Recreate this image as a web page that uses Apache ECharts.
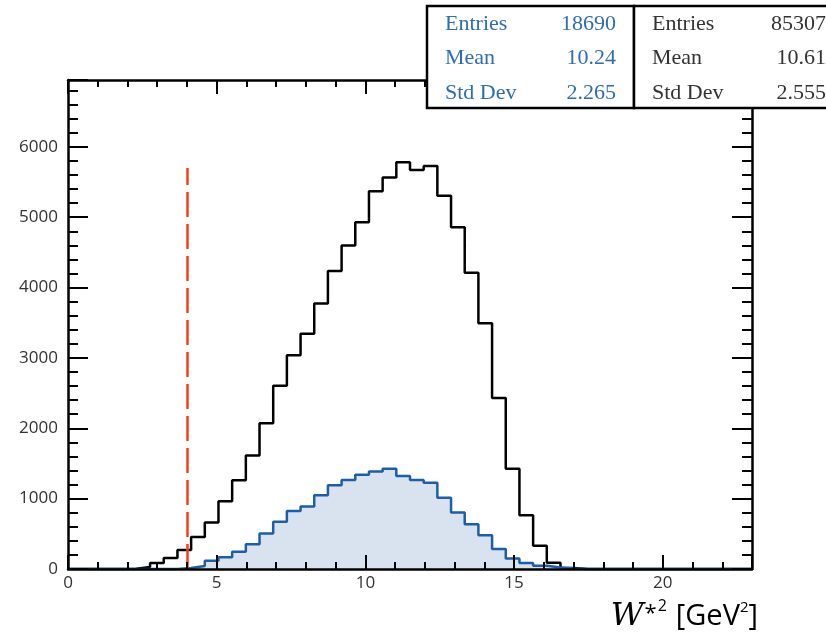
<!DOCTYPE html>
<html>
<head>
<meta charset="utf-8">
<script src="https://cdn.jsdelivr.net/npm/echarts@6/dist/echarts.min.js"></script>
<style>
  html, body { margin: 0; padding: 0; background: #ffffff; }
  #chart { width: 826px; height: 636px; }
</style>
</head>
<body>
<div id="chart"></div>
<script>
// Histogram binning: 50 bins over W*^2 = 0 .. 23 GeV^2
const binLow = 0;
const binWidth = 0.46;

// All events (black outline)
const allCounts = [
  0, 0, 0, 0, 5, 30, 85, 155, 270, 455,
  662, 962, 1260, 1613, 2070, 2604, 3038, 3345, 3774, 4236,
  4599, 4929, 5368, 5566, 5780, 5670, 5726, 5306, 4858, 4212,
  3491, 2429, 1425, 764, 330, 90, 15, 0, 0, 0,
  0, 0, 0, 0, 0, 0, 0, 0, 0, 0
];

// Selected events (blue, filled)
const selCounts = [
  0, 0, 0, 0, 0, 0, 0, 0, 15, 43,
  116, 166, 246, 350, 505, 670, 825, 889, 1047, 1189,
  1264, 1340, 1387, 1425, 1321, 1264, 1227, 1014, 802, 637,
  481, 283, 151, 85, 47, 20, 8, 0, 0, 0,
  0, 0, 0, 0, 0, 0, 0, 0, 0, 0
];

// Cut position and height of the cut marker
const cutValue = 4;
const cutLineTop = 5700;

// Axis ranges and tick spacing
const xMin = 0, xMax = 23, xMajor = 5, xMinor = 1;
const yMin = 0, yMax = 6950, yMajor = 1000, yMinor = 200;

// Statistics boxes
const statsSel = [['Entries', '18690'], ['Mean', '10.24'], ['Std Dev', '2.265']];
const statsAll = [['Entries', '85307'], ['Mean', '10.61'], ['Std Dev', '2.555']];

const selColor = '#1b5ea9';
const selFill = '#d9e3ef';
const selText = '#2f6db3';
const allText = '#333333';
const labelFont = 'Open Sans';
const statFont = 'Liberation Serif';

// Turn bin contents into step points at the bin edges
function toSteps(counts) {
  const pts = counts.map((c, i) => [binLow + i * binWidth, c]);
  pts.push([binLow + counts.length * binWidth, counts[counts.length - 1]]);
  return pts;
}

function xAxisDef(position, interval, tickLen, withLabel, withLine) {
  return {
    type: 'value', position: position, min: xMin, max: xMax, interval: interval,
    z: 10,
    axisLine: { show: withLine, onZero: false, lineStyle: { color: '#000', width: 2.5 } },
    axisTick: { show: true, inside: true, length: tickLen, lineStyle: { color: '#000', width: 2 } },
    axisLabel: {
      show: withLabel, margin: 6, color: allText, fontFamily: labelFont, fontSize: 17,
      formatter: v => (v % xMajor === 0 ? String(v) : '')
    },
    splitLine: { show: false }
  };
}

function yAxisDef(position, interval, tickLen, withLabel, withLine) {
  return {
    type: 'value', position: position, min: yMin, max: yMax, interval: interval,
    z: 10,
    axisLine: { show: withLine, onZero: false, lineStyle: { color: '#000', width: 2.5 } },
    axisTick: { show: true, inside: true, length: tickLen, lineStyle: { color: '#000', width: 2 } },
    axisLabel: {
      show: withLabel, margin: 10, color: allText, fontFamily: labelFont, fontSize: 17,
      formatter: v => (v % yMajor === 0 ? String(v) : '')
    },
    splitLine: { show: false }
  };
}

// Stats box text and frame
function statsBox(x, width, rows, color) {
  const items = [{
    type: 'rect', z: 100, zlevel: 1,
    shape: { x: x, y: 6, width: width, height: 102 },
    style: { fill: '#ffffff', stroke: '#000000', lineWidth: 2.5 }
  }];
  const rowY = [24, 58, 93];
  rows.forEach((r, i) => {
    items.push({
      type: 'text', z: 101, zlevel: 1, x: x + 18, y: rowY[i],
      style: { text: r[0], fill: color, font: '22px "' + statFont + '"', align: 'left', verticalAlign: 'middle' }
    });
    items.push({
      type: 'text', z: 101, zlevel: 1, x: x + width - 18, y: rowY[i],
      style: { text: r[1], fill: color, font: '22px "' + statFont + '"', align: 'right', verticalAlign: 'middle' }
    });
  });
  return items;
}

const chart = echarts.init(document.getElementById('chart'), null, { renderer: 'canvas' });

chart.setOption({
  backgroundColor: '#ffffff',
  animation: false,
  grid: { left: 68, right: 74, top: 80, bottom: 67, containLabel: false },
  xAxis: [
    xAxisDef('bottom', xMajor, 14, true, true),
    xAxisDef('bottom', xMinor, 7, false, false),
    xAxisDef('top', xMajor, 14, false, true),
    xAxisDef('top', xMinor, 7, false, false)
  ],
  yAxis: [
    yAxisDef('left', yMajor, 20, true, true),
    yAxisDef('left', yMinor, 10, false, false),
    yAxisDef('right', yMajor, 20, false, true),
    yAxisDef('right', yMinor, 10, false, false)
  ],
  series: [
    {
      name: 'all',
      type: 'line', step: 'end', xAxisIndex: 0, yAxisIndex: 0,
      data: toSteps(allCounts), symbol: 'none', z: 3,
      lineStyle: { color: '#000000', width: 2.5 }
    },
    {
      name: 'selected',
      type: 'line', step: 'end', xAxisIndex: 0, yAxisIndex: 0,
      data: toSteps(selCounts), symbol: 'none', z: 4,
      lineStyle: { color: selColor, width: 2.5 },
      areaStyle: { color: selFill, opacity: 1, origin: 'start' },
      markLine: {
        silent: true, symbol: ['none', 'none'], label: { show: false },
        lineStyle: { color: '#ff3b1a', width: 2.5, type: [25, 7] },
        data: [[{ coord: [cutValue, 0] }, { coord: [cutValue, cutLineTop] }]]
      }
    }
  ],
  graphic: [
    ...statsBox(427, 207, statsSel, selText),
    ...statsBox(634, 210, statsAll, allText),
    {
      type: 'text', x: 758, y: 617, z: 100,
      style: {
        text: '{w|W}{s|*}{u|2}{g|}{r|[GeV}{t|2}{r|]}',
        align: 'right', verticalAlign: 'middle',
        rich: {
          w: { fontFamily: 'DejaVu Serif', fontStyle: 'italic', fontSize: 32, color: '#222', lineHeight: 38 },
          s: { fontFamily: labelFont, fontSize: 22, color: '#222', verticalAlign: 'top', lineHeight: 30, padding: [5, 1, 0, 1] },
          u: { fontFamily: labelFont, fontSize: 16, color: '#222', verticalAlign: 'top', lineHeight: 30 },
          g: { width: 9, lineHeight: 38 },
          r: { fontFamily: labelFont, fontSize: 29, color: '#222', lineHeight: 38 },
          t: { fontFamily: labelFont, fontSize: 15, color: '#222', verticalAlign: 'top', lineHeight: 30, padding: [2, 0, 0, 0] }
        }
      }
    }
  ]
});
</script>
</body>
</html>
